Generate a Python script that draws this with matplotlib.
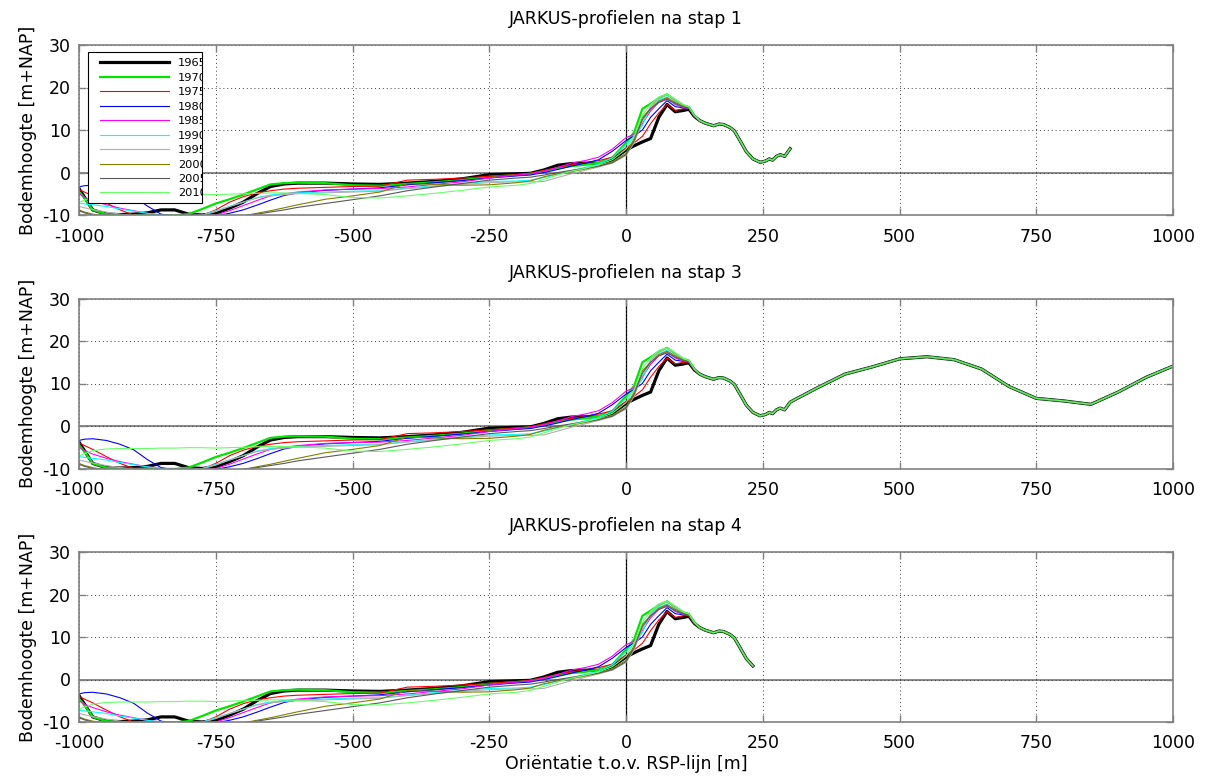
import matplotlib
matplotlib.use("Agg")
import matplotlib.pyplot as plt
import numpy as np
from matplotlib.patches import Rectangle
from matplotlib.transforms import Bbox, TransformedBbox

plt.rcParams['font.family'] = ['DejaVu Sans']
plt.rcParams['axes.unicode_minus'] = False

# profile data (m+NAP) per year, seaward part on a shared x grid
years = ['1965', '1970', '1975', '1980', '1985', '1990', '1995', '2000', '2005', '2010']
colors = ['#000000', '#00e600', '#ff0000', '#0000ff', '#ff00ff', '#00ffff',
          '#b0b0b0', '#808000', '#595959', '#66ff66']
widths = [2.3, 1.6, 0.8, 0.8, 0.8, 0.8, 0.8, 0.8, 0.8, 0.8]

x_sea = [-1000, -990, -975, -950, -925, -900, -875, -850, -825, -800, -775, -750,
         -725, -700, -675, -650, -625, -600, -550, -500, -450, -400, -350, -300,
         -250, -200, -175, -150, -125, -100, -75, -50, -25, 0, 15, 30, 45, 60,
         75, 90, 105, 115, 125]

z_1965 = [-3.8, -5.8, -8.8, -9.8, -9.9, -9.8, -9.5, -8.8, -8.8, -9.8, -10.0, -9.6,
          -8.4, -7.0, -5.0, -3.3, -2.7, -2.5, -2.5, -2.7, -2.8, -2.5, -2.1, -1.5,
          -0.5, -0.3, -0.2, 0.6, 1.7, 2.1, 2.2, 2.1, 3.0, 5.3, 6.3, 7.2, 8.0, 13.0,
          16.0, 14.3, 14.6, 14.9, 13.2]
z_1970 = [-4.5, -6.0, -8.8, -9.8, -10.0, -10.1, -10.0, -10.1, -10.1, -9.8, -8.6, -7.3,
          -6.3, -5.2, -4.0, -2.8, -2.5, -2.4, -2.5, -3.0, -3.1, -2.7, -2.3, -1.8,
          -1.0, -0.6, -0.3, 0.3, 1.0, 1.5, 1.8, 2.3, 3.5, 7.0, 9.5, 15.0, 16.2, 17.5,
          18.4, 17.0, 15.8, 15.4, 13.4]
z_1975 = [-4.0, -4.6, -5.5, -7.2, -8.8, -10.0, -10.3, -10.3, -10.3, -10.2, -10.1, -8.8,
          -7.0, -5.7, -4.8, -4.3, -3.9, -3.7, -3.5, -3.3, -3.2, -1.8, -1.6, -1.3,
          -0.9, -0.5, -0.2, 0.5, 1.2, 1.8, 2.3, 2.8, 3.6, 5.8, 7.0, 8.5, 11.5, 14.0,
          16.0, 14.6, 15.0, 15.0, 13.2]
z_1980 = [-3.4, -3.1, -3.0, -3.4, -4.3, -5.6, -7.9, -9.8, -10.3, -10.3, -10.3, -10.2,
          -9.6, -8.8, -7.7, -6.5, -5.4, -4.8, -4.2, -3.9, -3.6, -2.9, -2.4, -1.9,
          -1.3, -0.8, -0.6, 0.0, 0.7, 1.5, 2.2, 3.0, 5.0, 7.5, 8.6, 10.0, 13.0, 15.0,
          16.9, 15.5, 15.2, 15.1, 13.3]
z_1985 = [-5.0, -5.8, -6.6, -7.6, -8.4, -9.0, -9.6, -10.0, -10.2, -10.3, -10.3, -10.0,
          -9.0, -7.8, -6.6, -5.5, -5.0, -4.6, -4.1, -3.9, -3.8, -3.4, -2.8, -2.2,
          -1.3, -0.6, -0.3, 0.3, 1.2, 2.2, 2.8, 3.6, 5.5, 8.2, 9.0, 11.5, 14.5, 16.5,
          17.5, 16.0, 15.3, 15.1, 13.3]
z_1990 = [-7.2, -7.4, -7.6, -8.0, -8.6, -9.1, -9.6, -10.0, -10.2, -10.2, -10.0, -9.0,
          -8.0, -7.0, -5.9, -5.3, -5.0, -4.8, -4.6, -4.4, -4.3, -3.7, -3.1, -2.6,
          -2.1, -2.0, -1.8, -1.2, -0.4, 0.4, 1.2, 2.0, 3.5, 6.5, 8.5, 11.0, 15.5, 17.0,
          17.8, 16.3, 15.4, 15.2, 13.3]
z_1995 = [-8.0, -8.3, -8.7, -9.3, -9.8, -10.2, -10.3, -10.3, -10.3, -10.3, -10.1, -9.2,
          -8.0, -7.0, -6.0, -5.5, -5.2, -5.0, -4.8, -4.6, -4.4, -3.8, -3.3, -2.8,
          -2.4, -2.2, -2.2, -2.1, -1.2, -0.3, 0.5, 1.3, 2.2, 4.0, 7.0, 12.0, 15.5, 17.5,
          18.3, 17.0, 15.6, 15.2, 13.3]
z_2000 = [-8.8, -9.3, -9.8, -10.3, -10.4, -10.4, -10.4, -10.4, -10.4, -10.4, -10.4, -10.4,
          -10.4, -10.2, -9.6, -9.0, -8.3, -7.6, -6.3, -5.5, -4.6, -2.6, -2.8, -3.0,
          -2.9, -2.4, -2.0, -1.0, -0.3, 0.2, 0.8, 1.5, 2.5, 4.5, 8.0, 13.0, 15.0, 16.8,
          17.6, 16.5, 15.5, 15.2, 13.3]
z_2005 = [-9.0, -9.5, -10.0, -10.4, -10.4, -10.4, -10.4, -10.4, -10.4, -10.4, -10.4, -10.4,
          -10.4, -10.2, -9.8, -9.3, -8.8, -8.2, -7.3, -6.4, -5.5, -4.3, -3.4, -2.6,
          -1.8, -1.3, -1.1, -0.6, 0.0, 0.5, 1.0, 1.5, 2.3, 4.2, 7.5, 12.5, 15.0, 16.5,
          17.2, 16.2, 15.4, 15.1, 13.3]
z_2010 = [-7.0, -6.5, -5.8, -5.4, -5.3, -5.3, -5.3, -5.2, -5.2, -5.1, -5.1, -5.2,
          -5.1, -5.0, -4.9, -4.8, -4.8, -4.9, -5.2, -5.9, -6.0, -5.5, -4.9, -4.2,
          -3.4, -3.0, -2.6, -1.6, -0.6, 0.3, 1.0, 1.8, 3.0, 5.5, 8.5, 13.5, 16.0, 17.8,
          18.4, 17.3, 15.9, 15.4, 13.4]
z_sea = [z_1965, z_1970, z_1975, z_1980, z_1985, z_1990, z_1995, z_2000, z_2005, z_2010]

# dune part, identical for all years
x_dune = [135, 145, 160, 170, 178, 190, 198, 208, 220, 232, 245, 255, 262, 268,
          275, 282, 290, 300]
z_dune = [12.2, 11.6, 11.0, 11.4, 11.3, 10.6, 9.8, 7.6, 4.9, 3.2, 2.4, 2.7, 3.2, 2.9,
          3.8, 4.2, 3.8, 5.6]

# landward extension (step 3)
x_ext = [310, 350, 400, 450, 500, 550, 600, 650, 700, 750, 800, 850, 900, 950, 1000]
z_ext = [6.3, 9.0, 12.2, 13.9, 15.8, 16.3, 15.6, 13.4, 9.3, 6.5, 5.9, 5.1, 8.0, 11.4, 14.1]

steps = [1, 3, 4]
x_end = [300, 1000, 240]

fig = plt.figure(figsize=(12.1, 7.79), dpi=100)
tops = [45, 298.5, 552]
axes = []
for i, top in enumerate(tops):
    ax = fig.add_axes([79 / 1210, 1 - (top + 170) / 779, 1094 / 1210, 170 / 779])
    axes.append(ax)

    ax.axhline(0, color='#808080', lw=1.3, zorder=1.5)
    ax.axvline(0, color='black', lw=0.9, zorder=1.5)

    for j, yr in enumerate(years):
        x = np.array(x_sea + x_dune + x_ext, dtype=float)
        z = np.array(z_sea[j] + z_dune + z_ext, dtype=float)
        keep = x <= x_end[i]
        ax.plot(x[keep], z[keep], color=colors[j], lw=widths[j], label=yr, zorder=2)

    ax.set_xlim(-1000, 1000)
    ax.set_ylim(-10, 30)
    ax.set_xticks(np.arange(-1000, 1001, 250))
    ax.set_yticks([-10, 0, 10, 20, 30])
    ax.grid(True, linestyle=(0, (1, 3)), color='#404040', lw=0.7, zorder=1)
    ax.tick_params(direction='in', top=True, right=True, length=5, width=1,
                   color='#808080', labelsize=12.5)
    ax.tick_params(axis='x', pad=9)
    ax.tick_params(axis='y', pad=6)
    for s in ax.spines.values():
        s.set_color('#808080')
        s.set_linewidth(1.2)
    ax.set_title(f'JARKUS-profielen na stap {steps[i]}', fontsize=12.5, pad=15)
    ax.set_ylabel('Bodemhoogte [m+NAP]', fontsize=12.5, labelpad=4)

axes[2].set_xlabel('Oriëntatie t.o.v. RSP-lijn [m]', fontsize=12.5, labelpad=2)

# legend in first panel, box narrower than the labels (as in original)
ax = axes[0]
box = [(88 - 79) / 1094, (215 - 203) / 170, (202 - 88) / 1094, (203 - 52) / 170]
ax.add_patch(Rectangle((box[0], box[1]), box[2], box[3], transform=ax.transAxes,
                       facecolor='white', edgecolor='black', lw=0.8, zorder=4))
leg = ax.legend(loc='upper left', bbox_to_anchor=((97 - 79) / 1094, (215 - 55) / 170),
                borderaxespad=0, borderpad=0.3, frameon=False, fontsize=8.2,
                handlelength=6.0, handletextpad=0.8, labelspacing=0.39)
leg.set_zorder(5)
clip = TransformedBbox(Bbox.from_bounds(*box), ax.transAxes)
for t in leg.get_texts():
    t.set_clip_box(clip)
    t.set_clip_on(True)

fig.savefig('out.png', dpi=100)
